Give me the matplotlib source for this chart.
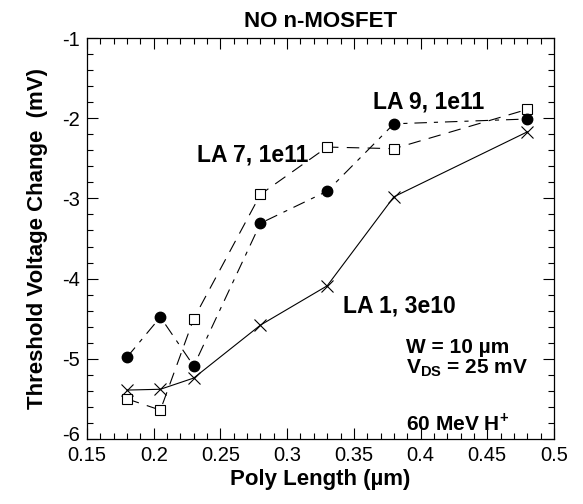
import matplotlib
matplotlib.use("Agg")
import matplotlib.pyplot as plt
import matplotlib.transforms as mtransforms
from matplotlib.ticker import MultipleLocator, FormatStrFormatter

# poly length (um) for every run
poly_length = [0.18, 0.205, 0.23, 0.28, 0.33, 0.38, 0.48]

# threshold voltage change (mV)
la1_3e10 = [-5.39, -5.38, -5.24, -4.58, -4.09, -2.98, -2.17]
la7_1e11 = [-5.50, -5.64, -4.50, -2.95, -2.36, -2.38, -1.89]
la9_1e11 = [-4.98, -4.48, -5.09, -3.31, -2.91, -2.07, -2.01]

x_ticks = [0.15, 0.2, 0.25, 0.3, 0.35, 0.4, 0.45, 0.5]
y_ticks = [-6, -5, -4, -3, -2, -1]


def main():
    plt.rcParams["font.family"] = ["Liberation Sans", "DejaVu Sans"]
    plt.rcParams["mathtext.fontset"] = "custom"
    plt.rcParams["mathtext.bf"] = "Liberation Sans:bold"
    plt.rcParams["mathtext.rm"] = "Liberation Sans:bold"
    plt.rcParams["axes.unicode_minus"] = False
    plt.rcParams["lines.scale_dashes"] = False

    fig = plt.figure(figsize=(5.83, 5.04), dpi=100)
    ax = fig.add_axes([0.1492, 0.129, 0.8011, 0.7956])

    ax.plot(poly_length, la1_3e10, color="black", lw=0.8, linestyle="-",
            marker="x", markersize=8.5, markeredgewidth=0.8)
    ax.plot(poly_length, la7_1e11, color="black", lw=0.8, dashes=(9, 6),
            marker="s", markersize=7, markerfacecolor="white",
            markeredgecolor="black", markeredgewidth=0.8)
    ax.plot(poly_length, la9_1e11, color="black", lw=0.8, dashes=(9, 5, 3, 5),
            marker="o", markersize=7.5, markerfacecolor="black")

    ax.set_xlim(0.15, 0.5)
    ax.set_ylim(-6, -1)
    ax.set_xticks(x_ticks)
    ax.set_yticks(y_ticks)
    ax.xaxis.set_minor_locator(MultipleLocator(0.01))
    ax.yaxis.set_minor_locator(MultipleLocator(0.2))
    ax.xaxis.set_major_formatter(FormatStrFormatter("%g"))
    ax.yaxis.set_major_formatter(FormatStrFormatter("%g"))
    ax.tick_params(which="both", direction="in", top=True, right=True,
                   labelsize=14.5, width=0.8)
    ax.tick_params(axis="x", pad=5)
    ax.tick_params(axis="y", pad=5)
    ax.tick_params(which="major", length=8)
    ax.tick_params(which="minor", length=4)
    for spine in ax.spines.values():
        spine.set_linewidth(0.9)

    # lift the bottom y label a touch so it clears "0.15"
    lift = mtransforms.ScaledTranslation(0, 4 / 72, fig.dpi_scale_trans)
    bottom_label = ax.get_yticklabels()[0]
    bottom_label.set_transform(bottom_label.get_transform() + lift)

    ax.set_title("NO n-MOSFET", fontsize=16, fontweight="bold", pad=8)
    ax.set_xlabel("Poly Length (\u00b5m)", fontsize=16, fontweight="bold", labelpad=3)
    ax.set_ylabel("Threshold Voltage Change  (mV)", fontsize=16,
                  fontweight="bold", labelpad=10)

    txt = dict(fontsize=16.5, fontweight="bold", ha="left", va="baseline")
    ax.text(0.3644, -1.873, "LA 9, 1e11", **txt)
    ax.text(0.2325, -2.546, "LA 7, 1e11", **txt)
    ax.text(0.342, -4.417, "LA 1, 3e10", **txt)

    note = dict(fontsize=15, fontweight="bold", ha="left", va="baseline")
    ax.text(0.389, -4.93, "W = 10 \u00b5m", **note)
    ax.text(0.389, -5.18, r"V$_{\mathbf{DS}}$ = 25 mV", **note)
    ax.text(0.389, -5.89, r"60 MeV H$^{\mathbf{+}}$", **note)

    fig.savefig("out.png", dpi=100)
    plt.close(fig)


if __name__ == "__main__":
    main()
